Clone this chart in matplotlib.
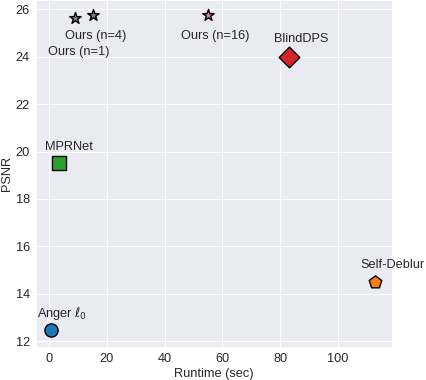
import matplotlib
matplotlib.use("Agg")
import matplotlib.pyplot as plt
import seaborn as sns

sns.set_style("darkgrid")
plt.rcParams['font.family'] = ['Liberation Sans', 'DejaVu Sans']
plt.rcParams['mathtext.fontset'] = 'dejavusans'

methods = ["Anger $\\ell_0$", "MPRNet", "Ours (n=1)", "Ours (n=4)", "Ours (n=16)", "BlindDPS", "Self-Deblur"]
runtime = [0.7, 3.5, 8.8, 15.0, 55.0, 83.0, 113.0]
psnr = [12.45, 19.5, 25.66, 25.75, 25.77, 24.0, 14.5]
markers = ["o", "s", "*", "*", "*", "D", "p"]
colors = ["#1f77b4", "#2ca02c", "#7f7f7f", "#7f7f7f", "#e377c2", "#d62728", "#ff7f0e"]
sizes = [90, 90, 75, 75, 75, 110, 90]
label_offsets = [(-10.5, 12), (-10.5, 11.5), (-19.5, -25), (-19.5, -15), (-19.5, -15), (-10.5, 13), (-10.5, 12)]

fig, ax = plt.subplots(figsize=(4.26, 3.8), dpi=100)
for m, x, y, mk, c, s, off in zip(methods, runtime, psnr, markers, colors, sizes, label_offsets):
    ax.scatter(x, y, marker=mk, s=s, color=c, edgecolor="black", linewidth=1, zorder=3)
    ax.annotate(m, (x, y), xytext=off, textcoords="offset points", ha="left", va="center", fontsize=9.2)

ax.set_xlim(-4.5, 118.7)
ax.set_ylim(11.75, 26.4)
ax.set_xticks([0, 20, 40, 60, 80, 100])
ax.set_yticks([12, 14, 16, 18, 20, 22, 24, 26])
ax.tick_params(labelsize=9.2, pad=1)
ax.set_xlabel("Runtime (sec)", fontsize=9.2, labelpad=2)
ax.set_ylabel("PSNR", fontsize=9.2, labelpad=2)
fig.subplots_adjust(left=0.085, right=0.92, top=1.0, bottom=0.087)
fig.savefig("out.png", dpi=100)
